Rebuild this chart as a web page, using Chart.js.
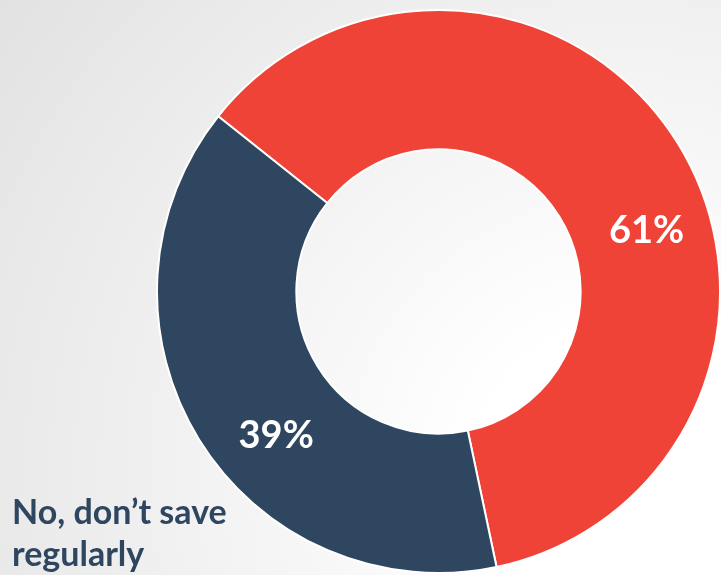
<!DOCTYPE html>
<html>
<head>
<meta charset="utf-8">
<script src="https://cdn.jsdelivr.net/npm/chart.js@4"></script>
<style>
  html, body { margin: 0; padding: 0; }
  body {
    width: 721px; height: 575px; overflow: hidden;
    background: radial-gradient(circle at 620px 470px, #ffffff 0%, #ffffff 18%, #e2e2e2 100%);
  }
  #wrap { width: 721px; height: 575px; }
</style>
</head>
<body>
<div id="wrap"><canvas id="savings"></canvas></div>
<script>
// share of respondents
const categories = ['Yes, save regularly', 'No, don\u2019t save regularly'];
const shares = [61, 39];
const colours = ['rgb(239, 67, 56)', 'rgb(47, 70, 96)'];
// where along each slice the % label sits (0 = start, 1 = end)
const labelAt = [0.57, 0.43];

const pctLabels = {
  id: 'pctLabels',
  afterDatasetsDraw(chart) {
    const ctx = chart.ctx;
    const meta = chart.getDatasetMeta(0);
    ctx.save();
    ctx.fillStyle = '#ffffff';
    ctx.font = 'bold 38px Lato';
    ctx.textAlign = 'center';
    ctx.textBaseline = 'middle';
    meta.data.forEach((arc, i) => {
      const p = arc.getProps(['x', 'y', 'startAngle', 'endAngle', 'innerRadius', 'outerRadius'], true);
      const a = p.startAngle + (p.endAngle - p.startAngle) * labelAt[i];
      const r = (p.innerRadius + p.outerRadius) / 2 + 5;
      ctx.fillText(shares[i] + '%', p.x + Math.cos(a) * r, p.y + Math.sin(a) * r);
    });

    // category name for the dark slice, bottom left
    ctx.fillStyle = colours[1];
    ctx.font = 'bold 34px Lato';
    ctx.textAlign = 'left';
    ctx.textBaseline = 'alphabetic';
    ctx.fillText('No, don\u2019t save', 12, 524);
    ctx.fillText('regularly', 12, 566);
    ctx.restore();
  }
};

new Chart(document.getElementById('savings'), {
  type: 'doughnut',
  data: {
    labels: categories,
    datasets: [{
      data: shares,
      backgroundColor: colours,
      borderColor: '#ffffff',
      borderWidth: 2,
      hoverOffset: 0
    }]
  },
  options: {
    responsive: true,
    maintainAspectRatio: false,
    animation: false,
    rotation: -51.5,
    cutout: '50.5%',
    layout: { padding: { left: 156, right: 0, top: 9, bottom: 1 } },
    plugins: {
      legend: { display: false },
      tooltip: { enabled: false }
    }
  },
  plugins: [pctLabels]
});
</script>
</body>
</html>
